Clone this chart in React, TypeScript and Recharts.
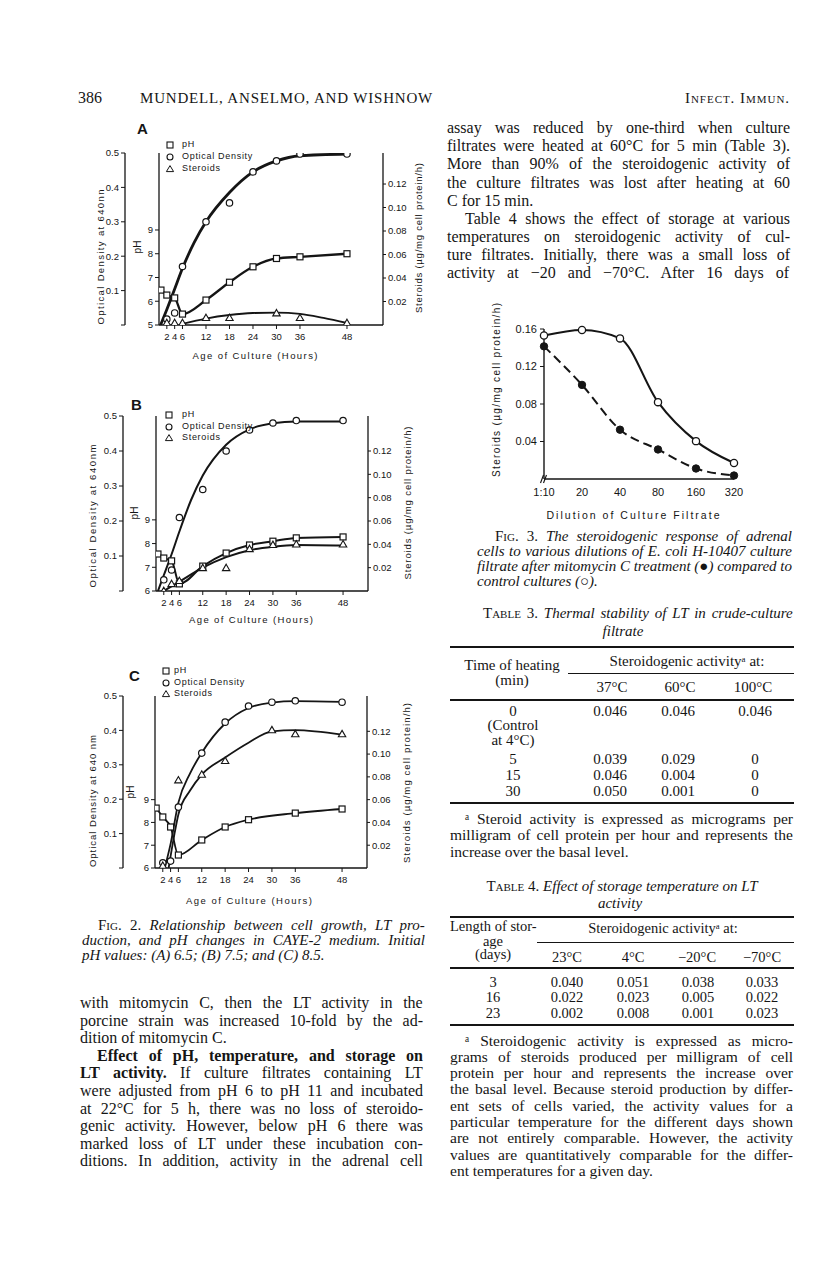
import React from 'react';
import { ComposedChart, LineChart, Line, Scatter, XAxis, YAxis, Legend, ReferenceDot } from 'recharts';

const INK = '#151515';
const SERIF = '"Liberation Serif", "Times New Roman", serif';
const SANS = '"Liberation Sans", Arial, sans-serif';

// ---- Fig. 2 : [hour, value] ----
const hourTicks = [2, 4, 6, 12, 18, 24, 30, 36, 48];
const odTicks = [0, 0.1, 0.2, 0.3, 0.4, 0.5];
const steroidTicks = [0.02, 0.04, 0.06, 0.08, 0.1, 0.12];
const legendLabels = ['pH', 'Optical Density', 'Steroids'];

// A - initial pH 6.5
const phA = [[0.5, 6.47], [2, 6.26], [4, 6.14], [6, 5.46], [12, 6.05], [18, 6.8], [24, 7.45], [30, 7.8], [36, 7.87], [48, 8.0]];
const odA = [[2, 0.017], [4, 0.035], [6, 0.17], [12, 0.3], [18, 0.355], [24, 0.445], [30, 0.477], [36, 0.497], [48, 0.497]];
const odCurveA = [[0.4, 0], [2, 0.045], [4, 0.105], [6, 0.165], [9, 0.24], [12, 0.3], [18, 0.385], [24, 0.445], [30, 0.477], [36, 0.492], [48, 0.497]];
const steroidA = [[2, 0.0017], [4, 0.0017], [6, 0.0017], [12, 0.006], [18, 0.006], [30, 0.01], [36, 0.006], [48, 0.0017]];
const steroidCurveA = [[6, 0.001], [12, 0.0055], [18, 0.0085], [24, 0.0102], [30, 0.0106], [36, 0.0095], [42, 0.006], [48, 0.0017]];

// B - initial pH 7.5
const phB = [[0.5, 7.56], [2, 7.39], [4, 7.27], [6, 6.3], [12, 7.05], [18, 7.6], [24, 7.94], [30, 8.1], [36, 8.24], [48, 8.28]];
const odB = [[2, 0.032], [4, 0.06], [6, 0.21], [12, 0.29], [18, 0.4], [24, 0.46], [30, 0.48], [36, 0.487], [48, 0.487]];
const odCurveB = [[0.5, 0], [2, 0.045], [4, 0.105], [6, 0.17], [9, 0.26], [12, 0.33], [18, 0.418], [24, 0.462], [30, 0.479], [36, 0.484], [48, 0.484]];
const steroidB = [[2, 0], [4, 0.006], [6, 0.0086], [12, 0.0197], [18, 0.0197], [24, 0.036], [30, 0.0395], [36, 0.04], [48, 0.04]];
const steroidCurveB = [[2, 0], [6, 0.008], [12, 0.02], [18, 0.029], [24, 0.035], [30, 0.038], [36, 0.0395], [48, 0.039]];

// C - initial pH 8.5
const phC = [[0.3, 8.63], [2, 8.24], [4, 7.8], [6, 6.57], [12, 7.23], [18, 7.8], [24, 8.12], [36, 8.41], [48, 8.59]];
const odC = [[2, 0.015], [4, 0.02], [6, 0.177], [12, 0.334], [18, 0.424], [24, 0.471], [30, 0.482], [36, 0.486], [48, 0.482]];
const odCurveC = [[2.5, 0], [4, 0.07], [6, 0.19], [9, 0.275], [12, 0.335], [18, 0.42], [24, 0.465], [30, 0.481], [36, 0.485], [48, 0.483]];
const steroidC = [[2, 0.002], [6, 0.077], [12, 0.082], [18, 0.094], [30, 0.121], [36, 0.1175], [48, 0.1175]];
const steroidCurveC = [[3.5, 0], [5, 0.03], [6, 0.047], [9, 0.068], [12, 0.082], [18, 0.097], [24, 0.11], [30, 0.12], [36, 0.121], [48, 0.117]];

// ---- Fig. 3 ----
const dilutions = ['1:10', '20', '40', '80', '160', '320'];
const controlSteroids = [0.153, 0.159, 0.15, 0.082, 0.0404, 0.017];
const mitomycinSteroids = [0.1415, 0.1004, 0.0526, 0.0315, 0.0112, 0.0037];
const fig3Ticks = [0.04, 0.08, 0.12, 0.16];

// ---- Tables ----
const t3Temps = ['37°C', '60°C', '100°C'];
const t3Rows = [['0', '0.046', '0.046', '0.046'], ['5', '0.039', '0.029', '0'], ['15', '0.046', '0.004', '0'], ['30', '0.050', '0.001', '0']];
const t4Temps = ['23°C', '4°C', '\u221220°C', '\u221270°C'];
const t4Rows = [['3', '0.040', '0.051', '0.038', '0.033'], ['16', '0.022', '0.023', '0.005', '0.022'], ['23', '0.002', '0.008', '0.001', '0.023']];

// ---- running text ----
const rightColumn = [
  'assay was reduced by one-third when culture',
  'filtrates were heated at 60°C for 5 min (Table 3).',
  'More than 90% of the steroidogenic activity of',
  'the culture filtrates was lost after heating at 60',
  'C for 15 min.',
  'Table 4 shows the effect of storage at various',
  'temperatures on steroidogenic activity of cul-',
  'ture filtrates. Initially, there was a small loss of',
  'activity at \u221220 and \u221270°C. After 16 days of',
];
type Seg = { t: string; i?: boolean; b?: boolean; sc?: boolean };
const leftColumn: Seg[][] = [
  [{ t: 'with mitomycin C, then the LT activity in the' }],
  [{ t: 'porcine strain was increased 10-fold by the ad-' }],
  [{ t: 'dition of mitomycin C.' }],
  [{ t: 'Effect of pH, temperature, and storage on', b: true }],
  [{ t: 'LT activity.', b: true }, { t: ' If culture filtrates containing LT' }],
  [{ t: 'were adjusted from pH 6 to pH 11 and incubated' }],
  [{ t: 'at 22°C for 5 h, there was no loss of steroido-' }],
  [{ t: 'genic activity. However, below pH 6 there was' }],
  [{ t: 'marked loss of LT under these incubation con-' }],
  [{ t: 'ditions. In addition, activity in the adrenal cell' }],
];
const fig2Caption: Seg[][] = [
  [{ t: 'Fig. 2.', sc: true }, { t: ' Relationship between cell growth, LT pro-', i: true }],
  [{ t: 'duction, and pH changes in CAYE-2 medium. Initial', i: true }],
  [{ t: 'pH values: (A) 6.5; (B) 7.5; and (C) 8.5.', i: true }],
];
const fig3Caption: Seg[][] = [
  [{ t: 'Fig. 3.', sc: true }, { t: ' The steroidogenic response of adrenal', i: true }],
  [{ t: 'cells to various dilutions of E. coli H-10407 culture', i: true }],
  [{ t: 'filtrate after mitomycin C treatment (\u25CF) compared to', i: true }],
  [{ t: 'control cultures (\u25CB).', i: true }],
];
const t3Note = [
  '\u1D43 Steroid activity is expressed as micrograms per',
  'milligram of cell protein per hour and represents the',
  'increase over the basal level.',
];
const t4Note = [
  '\u1D43 Steroidogenic activity is expressed as micro-',
  'grams of steroids produced per milligram of cell',
  'protein per hour and represents the increase over',
  'the basal level. Because steroid production by differ-',
  'ent sets of cells varied, the activity values for a',
  'particular temperature for the different days shown',
  'are not entirely comparable. However, the activity',
  'values are quantitatively comparable for the differ-',
  'ent temperatures for a given day.',
];

// ---------- text helpers ----------
const ctx = document.createElement('canvas').getContext('2d') as CanvasRenderingContext2D;
const fontOf = (s: Seg, size: number) =>
  `${s.i ? 'italic ' : ''}${s.sc ? 'small-caps ' : ''}${s.b ? 'bold ' : ''}${size}px ${SERIF}`;
const segW = (s: Seg, size: number) => {
  ctx.font = fontOf(s, size);
  return ctx.measureText(s.t).width;
};

function T({ x, b, size, segs, mode = 'l', w = 0, it = false }: any) {
  const list: Seg[] = typeof segs === 'string' ? [{ t: segs, i: it }] : segs;
  const nat = list.reduce((a, s) => a + segW(s, size), 0);
  const gaps = list.reduce((a, s) => a + (s.t.match(/ /g) || []).length, 0);
  const chars = list.reduce((a, s) => a + s.t.length, 0);
  let left = x;
  let ws = 0;
  let ls = 0;
  if (mode === 'j' && gaps) ws = (w - nat) / gaps;
  if (mode === 'f') ls = (w - nat) / chars;
  if (mode === 'c') left = x - nat / 2;
  return (
    <div
      style={{
        position: 'absolute', left, top: b - 0.8375 * size, fontSize: size, lineHeight: `${size}px`,
        whiteSpace: 'pre', wordSpacing: ws, letterSpacing: ls, fontFamily: SERIF, color: INK,
      }}
    >
      {list.map((s, k) => (
        <span key={k} style={{ fontStyle: s.i ? 'italic' : 'normal', fontWeight: s.b ? 700 : 400, fontVariant: s.sc ? 'small-caps' : 'normal' }}>
          {s.t}
        </span>
      ))}
    </div>
  );
}

const Rule = ({ x1, x2, y, h = 1 }: any) => (
  <div style={{ position: 'absolute', left: x1, top: y - h / 2, width: x2 - x1, height: h, background: INK }} />
);

// ---------- chart helpers ----------
const toPts = (a: number[][]) => a.map(([h, v]) => ({ h, v }));

const sq = (p: any) => <rect x={p.cx - 3} y={p.cy - 3} width={6} height={6} fill="#fff" stroke={INK} strokeWidth={1.2} />;
const circ = (p: any) => <circle cx={p.cx} cy={p.cy} r={3.2} fill="#fff" stroke={INK} strokeWidth={1.2} />;
const tri = (p: any) => (
  <path d={`M${p.cx} ${p.cy - 3.8}L${p.cx + 3.7} ${p.cy + 2.6}L${p.cx - 3.7} ${p.cy + 2.6}Z`} fill="#fff" stroke={INK} strokeWidth={1.1} />
);

const vTitle = (text: string, x: number, y: number, size: number, len?: number) => () => (
  <text
    x={x} y={y} transform={`rotate(-90 ${x} ${y})`} textAnchor="middle" dominantBaseline="central"
    fontSize={size} fontFamily={SANS} fill={INK} textLength={len} lengthAdjust={len ? 'spacing' : undefined}
  >
    {text}
  </text>
);
const hTitle = (text: string, x: number, y: number, size: number, len?: number) => () => (
  <text
    x={x} y={y} textAnchor="middle" dominantBaseline="central" fontSize={size} fontFamily={SANS} fill={INK}
    textLength={len} lengthAdjust={len ? 'spacing' : undefined}
  >
    {text}
  </text>
);

const tickStyle = { fontSize: 9.5, fill: INK, fontFamily: SANS };
const axisLine = { stroke: INK, strokeWidth: 1.3 };
const tickLine = { stroke: INK, strokeWidth: 1 };

// axis ids: the pH axis must sit next to the plot, the OD axis outside it
const PH = 'a-ph';
const OD = 'b-od';
const ST = 'c-st';

type PanelCfg = {
  letter: [string, number, number];
  left: number; top: number; width: number; height: number;
  odW: number; phW: number; stW: number;
  xMax: number; phDomain: [number, number]; phTicks: number[]; stMax: number;
  ph: number[][]; od: number[][]; odCurve: number[][]; st: number[][]; stCurve: number[][];
  lw: [number, number, number];
  odTitle: [string, number, number, number]; phTitle: [number, number];
  stTitle: [number, number, number]; xTitle: [number, number, number];
  lg: { x: number; y: number; dy: number; tx: number };
};

const panelA: PanelCfg = {
  letter: ['A', 143, 130], left: 40, top: 140, width: 393, height: 230, odW: 85, phW: 34, stW: 50,
  xMax: 57.2, phDomain: [5, 12.24], phTicks: [5, 6, 7, 8, 9], stMax: 0.1464,
  ph: phA, od: odA, odCurve: odCurveA, st: steroidA, stCurve: steroidCurveA, lw: [2.8, 2.3, 1.8],
  odTitle: ['Optical Density at 640nn', 100, 257, 135], phTitle: [137, 247], stTitle: [418, 238, 150], xTitle: [255, 355, 125],
  lg: { x: 170, y: 145, dy: 12, tx: 182 },
};
const panelB: PanelCfg = {
  letter: ['B', 137, 406], left: 40, top: 403, width: 378, height: 233, odW: 83, phW: 33, stW: 50,
  xMax: 54.4, phDomain: [6, 13.38], phTicks: [6, 7, 8, 9], stMax: 0.15,
  ph: phB, od: odB, odCurve: odCurveB, st: steroidB, stCurve: steroidCurveB, lw: [2, 2, 2],
  odTitle: ['Optical Density at 640nm', 92, 516, 143], phTitle: [134, 513], stTitle: [407, 503, 153], xTitle: [251, 619, 124],
  lg: { x: 169, y: 415, dy: 11.5, tx: 182 },
};
const panelC: PanelCfg = {
  letter: ['C', 135, 677], left: 40, top: 683, width: 377, height: 230, odW: 83, phW: 32, stW: 50,
  xMax: 54.4, phDomain: [6, 13.55], phTicks: [6, 7, 8, 9], stMax: 0.151,
  ph: phC, od: odC, odCurve: odCurveC, st: steroidC, stCurve: steroidCurveC, lw: [1.8, 1.8, 1.8],
  odTitle: ['Optical Density at 640 nm', 92, 801, 132], phTitle: [130, 792], stTitle: [406, 783, 160], xTitle: [249, 900, 126],
  lg: { x: 166, y: 671, dy: 11.5, tx: 174 },
};

const legendBox = (c: PanelCfg) => () => (
  <div style={{ position: 'relative', width: 110, height: 3 * c.lg.dy + 6, fontFamily: SANS, fontSize: 9, color: INK }}>
    {legendLabels.map((t, k) => (
      <div key={t}>
        <svg width={10} height={10} style={{ position: 'absolute', left: 0, top: k * c.lg.dy }}>
          {k === 0 && <rect x={2} y={2} width={6} height={6} fill="#fff" stroke={INK} strokeWidth={1.1} />}
          {k === 1 && <circle cx={5} cy={5} r={3} fill="#fff" stroke={INK} strokeWidth={1.1} />}
          {k === 2 && <path d="M5 1.6L8.6 7.6L1.4 7.6Z" fill="#fff" stroke={INK} strokeWidth={1} />}
        </svg>
        <span style={{ position: 'absolute', left: c.lg.tx - c.lg.x + 5, top: k * c.lg.dy - 1, lineHeight: '11px', letterSpacing: 0.7, whiteSpace: 'nowrap' }}>
          {t}
        </span>
      </div>
    ))}
  </div>
);

function Panel({ c }: { c: PanelCfg }) {
  const L = c.left;
  const Tp = c.top;
  return (
    <>
      <div style={{ position: 'absolute', left: c.letter[1] - 6, top: c.letter[2] - 10, font: `bold 15px ${SANS}`, color: INK }}>{c.letter[0]}</div>
      <div style={{ position: 'absolute', left: L, top: Tp }}>
        <ComposedChart width={c.width} height={c.height} margin={{ top: 13, right: 0, left: 0, bottom: 0 }}>
          <XAxis
            type="number" dataKey="h" domain={[0, c.xMax]} allowDataOverflow ticks={hourTicks} interval={0}
            tickSize={4} tickMargin={4} height={45} axisLine={axisLine} tickLine={tickLine} tick={tickStyle}
            label={{ content: hTitle('Age of Culture (Hours)', c.xTitle[0] - L, c.xTitle[1] - Tp, 9.5, c.xTitle[2]) }}
          />
          <YAxis
            yAxisId={OD} orientation="left" type="number" width={c.odW} domain={[0, 0.5]} allowDataOverflow
            ticks={odTicks} interval={0} tickFormatter={(v: number) => (v === 0 ? '' : v.toFixed(1))}
            tickSize={4} tickMargin={2} axisLine={axisLine} tickLine={tickLine} tick={tickStyle}
            label={{ content: vTitle(c.odTitle[0], c.odTitle[1] - L, c.odTitle[2] - Tp, 9.5, c.odTitle[3]) }}
          />
          <YAxis
            yAxisId={PH} orientation="left" type="number" width={c.phW} domain={c.phDomain} allowDataOverflow
            ticks={c.phTicks} interval={0} tickSize={4} tickMargin={2} axisLine={axisLine} tickLine={tickLine} tick={tickStyle}
            label={{ content: vTitle('pH', c.phTitle[0] - L, c.phTitle[1] - Tp, 10) }}
          />
          <YAxis
            yAxisId={ST} orientation="right" type="number" width={c.stW} domain={[0, c.stMax]} allowDataOverflow
            ticks={steroidTicks} interval={0} tickFormatter={(v: number) => v.toFixed(2)}
            tickSize={3} tickMargin={2} axisLine={axisLine} tickLine={tickLine} tick={tickStyle}
            label={{ content: vTitle('Steroids (\u00B5g/mg cell protein/h)', c.stTitle[0] - L, c.stTitle[1] - Tp, 9.5, c.stTitle[2]) }}
          />
          <Line yAxisId={OD} data={toPts(c.odCurve)} dataKey="v" type="monotone" stroke={INK} strokeWidth={c.lw[0]} dot={false} activeDot={false} isAnimationActive={false} />
          <Line yAxisId={PH} data={toPts(c.ph)} dataKey="v" type="monotone" stroke={INK} strokeWidth={c.lw[1]} dot={false} activeDot={false} isAnimationActive={false} />
          <Line yAxisId={ST} data={toPts(c.stCurve)} dataKey="v" type="monotone" stroke={INK} strokeWidth={c.lw[2]} dot={false} activeDot={false} isAnimationActive={false} />
          <Scatter yAxisId={OD} data={toPts(c.od)} dataKey="v" shape={circ} isAnimationActive={false} />
          <Scatter yAxisId={PH} data={toPts(c.ph)} dataKey="v" shape={sq} isAnimationActive={false} />
          <Scatter yAxisId={ST} data={toPts(c.st)} dataKey="v" shape={tri} isAnimationActive={false} />
          <Legend
            layout="vertical" align="center" verticalAlign="middle" content={legendBox(c)}
            wrapperStyle={{ left: c.lg.x - 5 - L, top: c.lg.y - 5 - Tp, width: 120 }}
          />
        </ComposedChart>
      </div>
    </>
  );
}

const fig3Rows = dilutions.map((d, k) => ({ d, ctrl: controlSteroids[k], mito: mitomycinSteroids[k] }));
const openDot = (p: any) => <circle key={`o${p.index}`} cx={p.cx} cy={p.cy} r={3.6} fill="#fff" stroke={INK} strokeWidth={1.3} />;
const fullDot = (p: any) => <circle key={`f${p.index}`} cx={p.cx} cy={p.cy} r={3.7} fill={INK} stroke={INK} strokeWidth={1} />;
const breakMark = (p: any) => (
  <g stroke={INK} strokeWidth={1.2}>
    <line x1={p.cx - 3.5} y1={p.cy + 4} x2={p.cx - 0.5} y2={p.cy - 4} />
    <line x1={p.cx - 0.5} y1={p.cy + 4} x2={p.cx + 2.5} y2={p.cy - 4} />
  </g>
);

function Fig3() {
  return (
    <div style={{ position: 'absolute', left: 480, top: 295 }}>
      <LineChart width={274} height={229} data={fig3Rows} margin={{ top: 34, right: 20, left: 0, bottom: 0 }}>
        <XAxis
          dataKey="d" scale="point" padding={{ left: 0, right: 0 }} interval={0} tickSize={0} tickMargin={9} height={45}
          axisLine={{ stroke: INK, strokeWidth: 1.4 }} tickLine={false} tick={{ fontSize: 11, fill: INK, fontFamily: SANS }}
          label={{ content: hTitle('Dilution of Culture Filtrate', 153, 220, 10.5, 173) }}
        />
        <YAxis
          width={64} domain={[0, 0.16]} ticks={fig3Ticks} interval={0} tickFormatter={(v: number) => v.toFixed(2)}
          tickSize={4} tickMargin={3} axisLine={{ stroke: INK, strokeWidth: 1.4 }} tickLine={tickLine}
          tick={{ fontSize: 11, fill: INK, fontFamily: SANS }}
          label={{ content: vTitle('Steroids (\u00B5g/mg  cell protein/h)', 16, 95, 10, 174) }}
        />
        <Line dataKey="ctrl" type="monotone" stroke={INK} strokeWidth={2.1} dot={openDot} activeDot={false} isAnimationActive={false} />
        <Line dataKey="mito" type="monotone" stroke={INK} strokeWidth={2} strokeDasharray="9 5" dot={fullDot} activeDot={false} isAnimationActive={false} />
        <ReferenceDot x="1:10" y={0} r={0} ifOverflow="visible" shape={breakMark} />
      </LineChart>
    </div>
  );
}

export default function App() {
  return (
    <div style={{ position: 'absolute', left: 0, top: 0, width: 816, height: 1261, background: '#fff', overflow: 'hidden' }}>
      {/* running head */}
      <T x={78} b={103.5} size={16} segs="386" />
      <T x={140} b={103.5} size={15} segs="MUNDELL, ANSELMO, AND WISHNOW" mode="f" w={295} />
      <T x={685} b={103.5} size={15} segs={[{ t: 'Infect. Immun.', sc: true }]} mode="f" w={105} />

      {/* Fig. 2 */}
      <Panel c={panelA} />
      <Panel c={panelB} />
      <Panel c={panelC} />
      {fig2Caption.map((s, k) => (
        <T key={k} x={k === 0 ? 98 : 82} b={930.4 + 15 * k} size={15} segs={s} mode={k === 2 ? 'l' : 'j'} w={k === 0 ? 327 : 343} />
      ))}

      {/* left column text */}
      {leftColumn.map((s, k) => (
        <T key={k} x={k === 3 ? 97 : 80} b={1008.6 + 17.55 * k} size={16} segs={s} mode={k === 2 ? 'l' : 'j'} w={k === 3 ? 326 : 343} />
      ))}

      {/* right column text */}
      {rightColumn.map((s, k) => (
        <T key={k} x={k === 5 ? 465 : 447} b={133.6 + 18.1 * k} size={16} segs={s} mode={k === 4 ? 'l' : 'j'} w={k === 5 ? 325 : 343} />
      ))}

      {/* Fig. 3 */}
      <Fig3 />
      {fig3Caption.map((s, k) => (
        <T key={k} x={k === 0 ? 495 : 477} b={541.4 + 15 * k} size={15} segs={s} mode={k === 3 ? 'l' : 'j'} w={k === 0 ? 297 : 315} />
      ))}

      {/* Table 3 */}
      <T x={483} b={618.4} size={15} segs={[{ t: 'Table 3.', sc: true }, { t: ' Thermal stability of LT in crude-culture', i: true }]} mode="j" w={310} />
      <T x={623} b={636.4} size={15} segs="filtrate" it mode="c" />
      <Rule x1={450} x2={794} y={647} h={2} />
      <T x={512} b={670.4} size={15} segs="Time of heating" mode="c" />
      <T x={512} b={685.4} size={15} segs="(min)" mode="c" />
      <T x={687} b={666.4} size={15} segs={'Steroidogenic activity\u1D43 at:'} mode="c" />
      <Rule x1={568} x2={794} y={673} h={1} />
      {t3Temps.map((t, k) => (
        <T key={t} x={[612, 680, 753][k]} b={693} size={15} segs={t} mode="c" />
      ))}
      <Rule x1={450} x2={794} y={700} h={1.4} />
      {t3Rows.map((r, k) => {
        const b = [717, 765, 781, 797][k];
        return r.map((v, j) => <T key={`${k}-${j}`} x={[513, 610, 678, 755][j]} b={b} size={15} segs={v} mode="c" />);
      })}
      <T x={513} b={731} size={15} segs="(Control" mode="c" />
      <T x={513} b={746} size={15} segs="at 4°C)" mode="c" />
      <Rule x1={450} x2={794} y={803} h={2} />
      {t3Note.map((s, k) => (
        <T key={k} x={k === 0 ? 465 : 450} b={823.5 + 16.5 * k} size={15.5} segs={s} mode={k === 2 ? 'l' : 'j'} w={k === 0 ? 328 : 343} />
      ))}

      {/* Table 4 */}
      <T x={622} b={891.4} size={15} segs={[{ t: 'Table 4.', sc: true }, { t: ' Effect of storage temperature on LT', i: true }]} mode="c" />
      <T x={620} b={908.4} size={15} segs="activity" it mode="c" />
      <Rule x1={450} x2={794} y={917} h={2} />
      <T x={450} b={931} size={14.5} segs="Length of stor-" />
      <T x={493} b={946} size={14.5} segs="age" mode="c" />
      <T x={493} b={959.5} size={14.5} segs="(days)" mode="c" />
      <T x={663} b={933.3} size={14.5} segs={'Steroidogenic activity\u1D43 at:'} mode="c" />
      <Rule x1={537} x2={794} y={942} h={1} />
      {t4Temps.map((t, k) => (
        <T key={t} x={[567, 633, 697, 762][k]} b={961.8} size={14.5} segs={t} mode="c" />
      ))}
      <Rule x1={450} x2={794} y={968} h={1.4} />
      {t4Rows.map((r, k) =>
        r.map((v, j) => <T key={`${k}-${j}`} x={[493, 567, 633, 698, 762][j]} b={986.8 + 15.5 * k} size={14.5} segs={v} mode="c" />),
      )}
      <Rule x1={450} x2={794} y={1025} h={2} />
      {t4Note.map((s, k) => (
        <T key={k} x={k === 0 ? 465 : 450} b={1045.5 + 16.3 * k} size={15.5} segs={s} mode={k === 8 ? 'l' : 'j'} w={k === 0 ? 328 : 343} />
      ))}
    </div>
  );
}
